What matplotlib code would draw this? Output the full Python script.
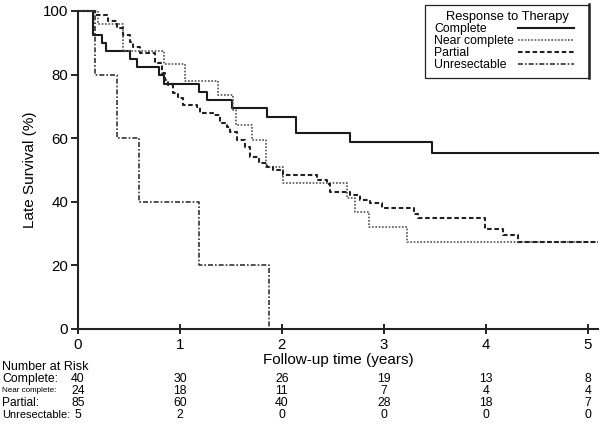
import matplotlib
matplotlib.use("Agg")
import matplotlib.pyplot as plt
from matplotlib.patches import Rectangle
from matplotlib.lines import Line2D
from matplotlib.transforms import blended_transform_factory

plt.rcParams["font.family"] = ["Liberation Sans", "DejaVu Sans"]

# Kaplan-Meier steps (years, % surviving)
complete_t = [0, 0.15, 0.235, 0.275, 0.51, 0.58, 0.79, 0.84, 1.19, 1.27, 1.51, 1.85, 2.14, 2.67, 3.47]
complete_s = [100, 92.5, 90, 87.5, 85, 82.5, 80, 77, 74.5, 72, 69.4, 66.6, 61.7, 58.9, 55.5]

near_t = [0, 0.2, 0.44, 0.84, 1.05, 1.37, 1.52, 1.55, 1.71, 1.84, 2.01, 2.64, 2.72, 2.85, 3.23]
near_s = [100, 95.8, 87.5, 83.2, 78, 73.5, 69, 64, 59.4, 51, 45.8, 41.2, 36.7, 32.2, 27.5]

partial_t = [0, 0.17, 0.29, 0.38, 0.44, 0.51, 0.54, 0.61, 0.76, 0.82,
             0.85, 0.88, 0.93, 0.98, 1.03, 1.17, 1.2, 1.32, 1.39, 1.46,
             1.49, 1.56, 1.64, 1.69, 1.78, 1.85, 1.91, 2.01, 2.34, 2.44,
             2.47, 2.67, 2.77, 2.86, 2.98, 3.30, 3.33, 3.99, 4.17, 4.32]
partial_s = [100, 98.7, 97, 94.6, 92.5, 90.3, 88.7, 86.7, 83.6, 80.5,
             78.3, 76.7, 74.2, 72.6, 70.4, 69.8, 67.9, 67.3, 64.8, 63.5,
             62, 59.4, 57.2, 54.1, 52.2, 51, 50, 48.4, 47, 45.5,
             43.2, 42.1, 40.6, 39.6, 38, 36.3, 34.8, 31.6, 29.6, 27.5]

unres_t = [0, 0.17, 0.38, 0.6, 1.19, 1.87]
unres_s = [100, 80, 60, 40, 20, 0]

end_time = 5.1

# number at risk table
risk_times = [0, 1, 2, 3, 4, 5]
risk_complete = [40, 30, 26, 19, 13, 8]
risk_near = [24, 18, 11, 7, 4, 4]
risk_partial = [85, 60, 40, 28, 18, 7]
risk_unres = [5, 2, 0, 0, 0, 0]

group_labels = ["Complete", "Near complete", "Partial", "Unresectable"]

styles = [
    dict(color="#1a1a1a", lw=1.5, ls="-"),
    dict(color="#555555", lw=1.2, ls=(0, (1, 1))),
    dict(color="#222222", lw=1.5, ls=(0, (2.2, 1.3))),
    dict(color="#333333", lw=1.2, ls=(0, (3, 1.2, 1, 1.2))),
]

W, H = 600, 426
fig = plt.figure(figsize=(6.0, 4.26), dpi=100)
ax = fig.add_axes([78 / W, 1 - 329 / H, (598 - 78) / W, (329 - 11) / H])

curves = [
    (complete_t + [end_time], complete_s + [complete_s[-1]]),
    (near_t + [end_time], near_s + [near_s[-1]]),
    (partial_t + [end_time], partial_s + [partial_s[-1]]),
    (unres_t, unres_s),
]
for (t, s), st in zip(curves, styles):
    ax.step(t, s, where="post", clip_on=False, **st)

ax.set_xlim(0, end_time)
ax.set_ylim(0, 100)
ax.set_xticks(risk_times)
ax.set_yticks([0, 20, 40, 60, 80, 100])
for side in ["top", "right"]:
    ax.spines[side].set_visible(False)
for side in ["left", "bottom"]:
    ax.spines[side].set_linewidth(1.5)
    ax.spines[side].set_color("#222222")
ax.tick_params(axis="y", direction="out", length=5, width=1.2, labelsize=10.8, pad=2)
ax.tick_params(axis="x", direction="inout", length=7, width=1.2, labelsize=10.8, pad=3)
ax.set_ylabel("Late Survival (%)", fontsize=11, labelpad=4)
ax.set_xlabel("Follow-up time (years)", fontsize=11, labelpad=1)

# legend box drawn by hand so labels are left aligned and lines right aligned
fig.patches.append(Rectangle((425 / W, 1 - 78 / H), (589 - 425) / W, (78 - 5) / H,
                             transform=fig.transFigure, fill=False, ec="#222222", lw=0.9))
fig.lines.append(Line2D([589 / W, 589 / W], [1 - 78 / H, 1 - 4 / H], transform=fig.transFigure,
                        color="#222222", lw=1.8))
fig.text(507 / W, 1 - 17 / H, "Response to Therapy", ha="center", va="center", fontsize=9.3)
entry_y = [29, 41, 53, 65]
for lab, st, yy in zip(group_labels, styles, entry_y):
    fig.text(434 / W, 1 - yy / H, lab, ha="left", va="center", fontsize=8.8)
    fig.lines.append(Line2D([518 / W, 574 / W], [1 - (yy - 1) / H] * 2,
                            transform=fig.transFigure, **st))

# number at risk table
tr = blended_transform_factory(ax.transData, fig.transFigure)
fig.text(2 / W, 1 - 367 / H, "Number at Risk", ha="left", va="center", fontsize=9)
rows = [
    ("Complete:", risk_complete, 379, 8.8),
    ("Near complete:", risk_near, 391, 5.8),
    ("Partial:", risk_partial, 403, 8.6),
    ("Unresectable:", risk_unres, 415, 7.9),
]
for lab, vals, yy, fs in rows:
    fig.text(2 / W, 1 - yy / H, lab, ha="left", va="center", fontsize=fs)
    for t, v in zip(risk_times, vals):
        ax.text(t, 1 - yy / H, str(v), transform=tr, ha="center", va="center", fontsize=8.8)

fig.savefig("out.png", dpi=100)
